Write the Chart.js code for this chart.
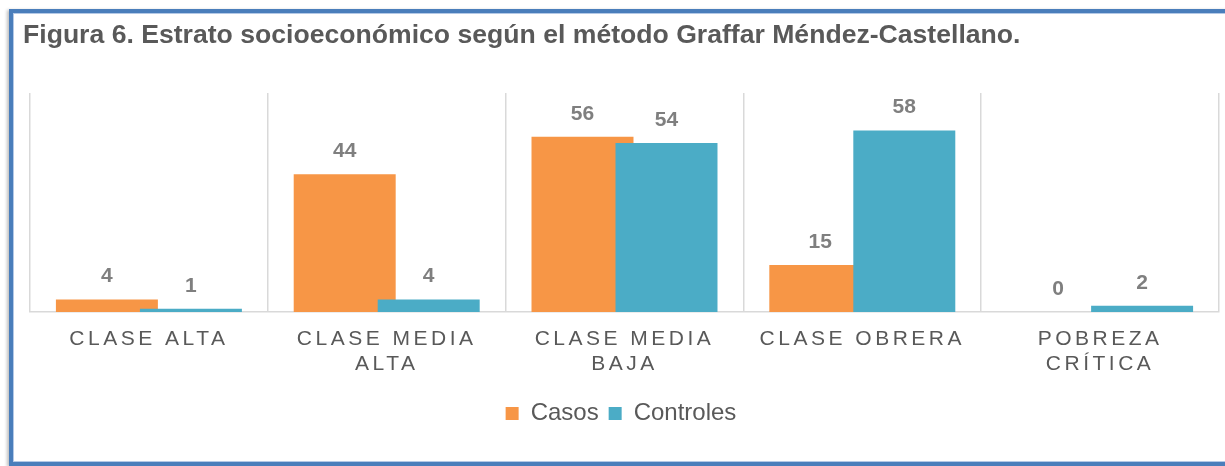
<!DOCTYPE html>
<html>
<head>
<meta charset="utf-8">
<script src="https://cdn.jsdelivr.net/npm/chart.js@4.4.1/dist/chart.umd.min.js"></script>
<style>
    html, body { margin: 0; padding: 0; background: #fff; overflow: hidden; }
    body { width: 1225px; height: 466px; position: relative; }
    .frame {
        position: absolute;
        left: 9px;
        top: 9px;
        width: 1300px;
        height: 457px;
        box-sizing: border-box;
        border: 4px solid #4a7ebb;
        box-shadow: inset 0 0 0 1px #b4c9e6, -2px 1px 3px rgba(0, 0, 0, 0.25);
    }
    #chart { position: absolute; left: 0; top: 0; }
</style>
</head>
<body>
<div class="frame"></div>
<canvas id="chart" width="1225" height="466"></canvas>
<script>
const categories = [
    ['CLASE ALTA'],
    ['CLASE MEDIA', 'ALTA'],
    ['CLASE MEDIA', 'BAJA'],
    ['CLASE OBRERA'],
    ['POBREZA', 'CRÍTICA']
];
const casos = [4, 44, 56, 15, 0];
const controles = [1, 4, 54, 58, 2];
const seriesNames = ['Casos', 'Controles'];
const seriesColors = ['#f79646', '#4bacc6'];

const TEXT_GREY = '#595959';
const LABEL_GREY = '#7f7f7f';
const GRID_GREY = '#d9d9d9';

// Draw the bars first-to-last (so Controles overlaps Casos like in Excel),
// put the value labels above them, then letter-space the category ticks
const barLabels = {
    id: 'barLabels',
    beforeDatasetsDraw(chart) {
        const ctx = chart.ctx;
        chart.data.datasets.forEach((ds, i) => {
            chart.getDatasetMeta(i).controller.draw();
        });

        ctx.save();
        ctx.font = 'bold 21px "Liberation Sans", Arial, sans-serif';
        ctx.fillStyle = LABEL_GREY;
        ctx.textAlign = 'center';
        ctx.textBaseline = 'middle';
        chart.data.datasets.forEach((ds, i) => {
            chart.getDatasetMeta(i).data.forEach((bar, j) => {
                ctx.fillText(String(ds.data[j]), bar.x, bar.y - 23);
            });
        });
        ctx.restore();

        // tick labels are drawn after the datasets (ticks.z = 1)
        ctx.letterSpacing = '3.5px';
        return false;
    },
    afterDraw(chart) {
        chart.ctx.letterSpacing = '0px';
    }
};

new Chart(document.getElementById('chart'), {
    type: 'bar',
    data: {
        labels: categories,
        datasets: [
            {
                label: seriesNames[0],
                data: casos,
                backgroundColor: seriesColors[0],
                borderWidth: 0
            },
            {
                label: seriesNames[1],
                data: controles,
                backgroundColor: seriesColors[1],
                borderWidth: 0
            }
        ]
    },
    options: {
        responsive: false,
        animation: false,
        datasets: {
            bar: {
                categoryPercentage: 0.7065,
                barPercentage: 1.214
            }
        },
        layout: {
            padding: { top: 0, left: 23, right: 6, bottom: 30.6 }
        },
        scales: {
            x: {
                offset: true,
                grid: {
                    offset: true,
                    color: GRID_GREY,
                    lineWidth: 1.5,
                    drawTicks: false
                },
                border: { color: GRID_GREY, width: 1.5 },
                ticks: {
                    z: 1,
                    color: TEXT_GREY,
                    padding: 15.6,
                    autoSkip: false,
                    maxRotation: 0,
                    font: { family: '"Liberation Sans", Arial, sans-serif', size: 21, lineHeight: 1.15 }
                },
                afterFit(scale) {
                    scale.height = 79.4;
                }
            },
            y: {
                min: 0,
                max: 70,
                ticks: { display: false },
                grid: { display: false },
                border: { display: false },
                afterFit(scale) {
                    scale.width = 7;
                }
            }
        },
        plugins: {
            title: {
                display: true,
                text: 'Figura 6. Estrato socioeconómico según el método Graffar Méndez-Castellano.',
                align: 'start',
                color: TEXT_GREY,
                font: { family: '"Liberation Sans", Arial, sans-serif', size: 26.6, weight: 'bold', lineHeight: 1.2 },
                padding: { top: 20, bottom: 41.1 }
            },
            legend: {
                position: 'bottom',
                labels: {
                    color: TEXT_GREY,
                    boxWidth: 13,
                    boxHeight: 13,
                    padding: 10,
                    font: { family: '"Liberation Sans", Arial, sans-serif', size: 24 }
                }
            },
            tooltip: { enabled: false }
        }
    },
    plugins: [barLabels]
});
</script>
</body>
</html>
